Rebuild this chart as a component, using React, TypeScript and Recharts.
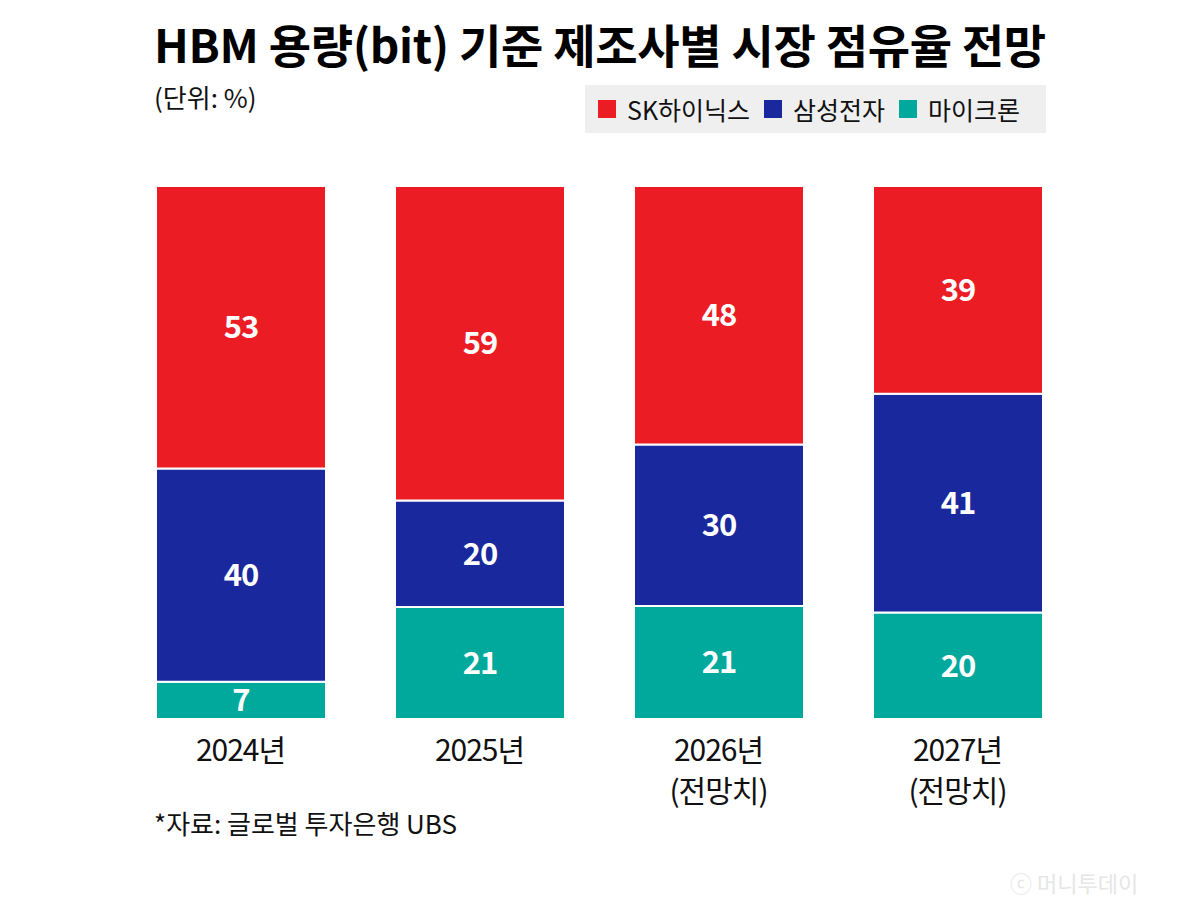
import * as React from 'react'
import { Bar, BarChart, LabelList, XAxis, YAxis } from 'recharts'

const years = ['2024년', '2025년', '2026년', '2027년']
const yearNotes = ['', '', '(전망치)', '(전망치)']
const skHynix = [53, 59, 48, 39]
const samsung = [40, 20, 30, 41]
const micron = [7, 21, 21, 20]

const seriesNames = ['SK하이닉스', '삼성전자', '마이크론']
const RED = '#ec1c24'
const NAVY = '#1a289d'
const TEAL = '#01a99d'
const FONT = '"Noto Sans CJK KR", "Noto Sans", sans-serif'

const data = years.map((year, i) => ({
  year,
  note: yearNotes[i],
  sk: skHynix[i],
  samsung: samsung[i],
  micron: micron[i],
}))

function YearTick(props: any) {
  const { x, y, payload, index } = props
  const note = yearNotes[index]
  return (
    <g transform={`translate(${x},${y})`}>
      <text x={0} y={34} textAnchor="middle" fontSize={30} fill="#111" fontFamily={FONT} letterSpacing={-1}>
        <tspan x={0}>{payload.value}</tspan>
        {note && (
          <tspan x={0} dy={41}>
            {note}
          </tspan>
        )}
      </text>
    </g>
  )
}

const labelStyle = {
  fill: '#fff',
  fontSize: 31,
  fontWeight: 700,
  fontFamily: FONT,
  letterSpacing: -1,
}

export default function App() {
  const legendColors = [RED, NAVY, TEAL]
  return (
    <div
      style={{
        position: 'absolute',
        left: 0,
        top: 0,
        width: 1200,
        height: 900,
        background: '#fff',
        overflow: 'hidden',
        fontFamily: FONT,
      }}
    >
      <div
        style={{
          position: 'absolute',
          left: 154,
          top: 12,
          fontSize: 46,
          fontWeight: 700,
          color: '#000',
          letterSpacing: -0.3,
          whiteSpace: 'nowrap',
          lineHeight: '62px',
        }}
      >
        HBM 용량(bit) 기준 제조사별 시장 점유율 전망
      </div>
      <div
        style={{
          position: 'absolute',
          left: 154,
          top: 80,
          fontSize: 26,
          color: '#111',
          lineHeight: '34px',
        }}
      >
        (단위: %)
      </div>

      {/* legend box */}
      <div
        style={{
          position: 'absolute',
          left: 585,
          top: 85,
          width: 461,
          height: 48,
          background: '#efefef',
          display: 'flex',
          alignItems: 'center',
          paddingLeft: 13,
          boxSizing: 'border-box',
        }}
      >
        {seriesNames.map((name, i) => (
          <div key={name} style={{ display: 'flex', alignItems: 'center', marginRight: 14 }}>
            <span style={{ width: 18, height: 18, background: legendColors[i], display: 'inline-block', marginRight: 11 }} />
            <span style={{ fontSize: 25, color: '#111', lineHeight: '30px' }}>{name}</span>
          </div>
        ))}
      </div>

      <div style={{ position: 'absolute', left: 0, top: 0 }}>
        <BarChart
          width={1200}
          height={900}
          data={data}
          stackOffset="expand"
          margin={{ top: 186, right: 123, bottom: 81, left: 121 }}
          barSize={170}
        >
          <XAxis
            dataKey="year"
            axisLine={false}
            tickLine={false}
            height={100}
            interval={0}
            tick={<YearTick />}
          />
          <YAxis hide domain={[0, 1]} />
          <Bar dataKey="micron" stackId="a" fill={TEAL} stroke="#fff" strokeWidth={2} isAnimationActive={false}>
            <LabelList dataKey="micron" position="center" style={labelStyle} />
          </Bar>
          <Bar dataKey="samsung" stackId="a" fill={NAVY} stroke="#fff" strokeWidth={2} isAnimationActive={false}>
            <LabelList dataKey="samsung" position="center" style={labelStyle} />
          </Bar>
          <Bar dataKey="sk" stackId="a" fill={RED} stroke="#fff" strokeWidth={2} isAnimationActive={false}>
            <LabelList dataKey="sk" position="center" style={labelStyle} />
          </Bar>
        </BarChart>
      </div>

      <div
        style={{
          position: 'absolute',
          left: 154,
          top: 806,
          fontSize: 26,
          color: '#111',
          lineHeight: '34px',
          whiteSpace: 'nowrap',
        }}
      >
        *자료: 글로벌 투자은행 UBS
      </div>

      <div
        style={{
          position: 'absolute',
          left: 1010,
          top: 868,
          fontSize: 22,
          color: '#e6e6e6',
          whiteSpace: 'nowrap',
          lineHeight: '28px',
        }}
      >
        ⓒ 머니투데이
      </div>
    </div>
  )
}
